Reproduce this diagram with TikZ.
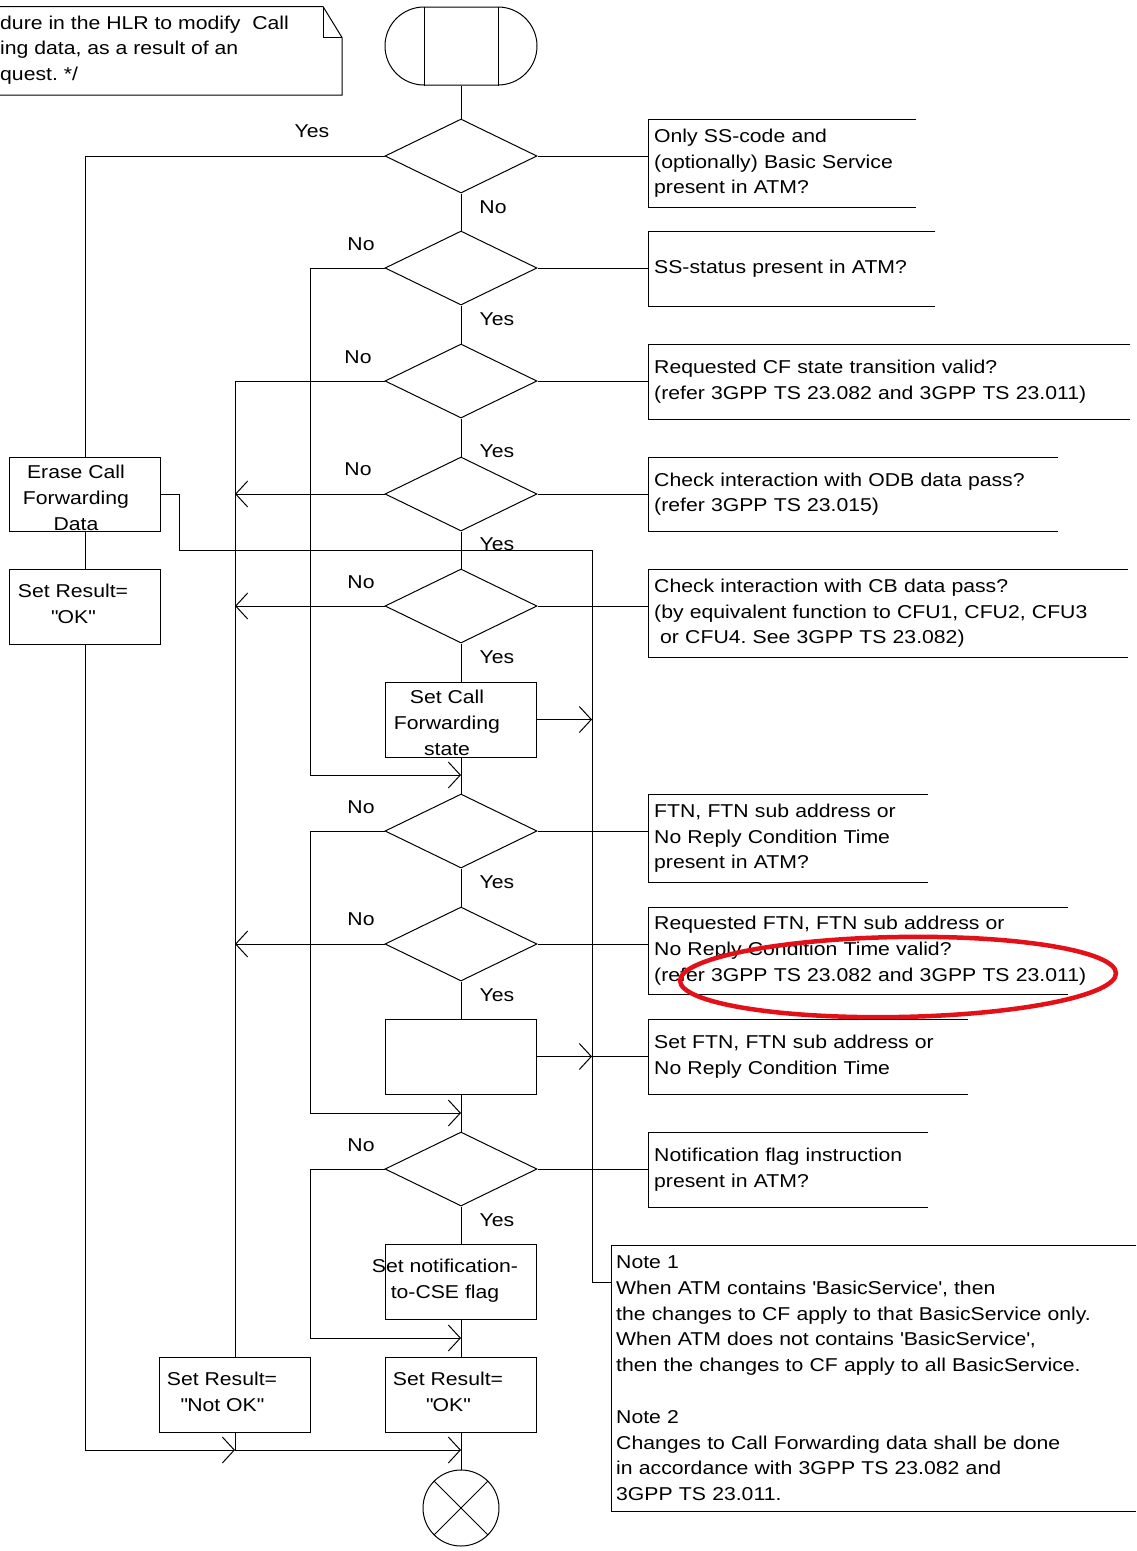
\documentclass[tikz,border=0pt]{standalone}
\usepackage{fontspec}
\setmainfont{Liberation Sans}[FakeStretch=1.14]
\usetikzlibrary{shapes.geometric,shapes.misc,arrows.meta,calc}
\definecolor{markred}{RGB}{228,16,24}
\frenchspacing

\begin{document}
\begin{tikzpicture}[x=1pt,y=-1pt,
  every node/.style={font=\fontsize{18.6pt}{25.8pt}\selectfont},
  line/.style={draw=black,line width=1pt},
  arr/.style={line,-{Straight Barb[length=12pt,width=26pt,line width=1pt]}},
  decision/.style={diamond,draw,line width=1pt,minimum width=152pt,minimum height=74pt,inner sep=0pt},
  task/.style={rectangle,draw,line width=1pt,minimum width=151pt,minimum height=75pt,inner sep=0pt},
  boxtext/.style={align=center,inner sep=0pt},
  lbl/.style={inner sep=0pt},
  cmt/.style={anchor=north west,align=left,inner xsep=6pt,inner ysep=0pt},
]
\useasboundingbox (0,0) rectangle (1136,1551);

% ---------- header comment with folded corner ----------
\draw[line] (-5,6.5) -- (323,6.5) -- (342,37.5) -- (342,95) -- (-5,95);
\draw[line] (323,6.5) -- (323,37.5) -- (342,37.5);
\node[lbl,anchor=west,align=left] (hdr) at (0,50)
  {dure in the HLR to modify\ \ Call\\ing data, as a result of an\\quest. */};

% ---------- start symbol ----------
\node[rounded rectangle,draw,line width=1pt,minimum width=152pt,minimum height=78pt,inner sep=0pt] (start) at (461,46) {};
\draw[line] ([xshift=-37pt]start.north) -- ([xshift=-37pt]start.south);
\draw[line] ([xshift=37pt]start.north) -- ([xshift=37pt]start.south);

% ---------- decisions ----------
\node[decision] (d1) at (461,156) {};
\node[decision] (d2) at (461,268) {};
\node[decision] (d3) at (461,381) {};
\node[decision] (d4) at (461,494) {};
\node[decision] (d5) at (461,606) {};
\node[decision] (d6) at (461,831) {};
\node[decision] (d7) at (461,944) {};
\node[decision] (d8) at (461,1169) {};

% ---------- tasks ----------
\node[task] (setcf) at (461,719.5) {};
\node[task] (empty) at (461,1056.5) {};
\node[task] (notif) at (461,1281.5) {};
\node[task] (rok)   at (461,1394.5) {};
\node[task] (nok)   at (235,1394.5) {};
\node[task,minimum height=74pt] (erase) at (85,494) {};
\node[task] (lok)   at (85,606.5) {};

\node[boxtext] (erase-t) at (76,498)    {Erase Call\\Forwarding\\Data};
\node[boxtext] (lok-t)   at (73,604)    {Set Result=\\\textquotedbl OK\textquotedbl};
\node[boxtext] (setcf-t) at (447,723)   {Set Call\\Forwarding\\state};
\node[boxtext] (notif-t) at (445,1281)  {Set notification-\\to-CSE flag};
\node[boxtext] (nok-t)   at (222,1392)  {Set Result=\\\textquotedbl Not OK\textquotedbl};
\node[boxtext] (rok-t)   at (448,1392)  {Set Result=\\\textquotedbl OK\textquotedbl};

% ---------- stop symbol ----------
\node[circle,draw,line width=1pt,minimum size=76pt,inner sep=0pt] (stop) at (461,1508) {};
\draw[line] (stop.north west) -- (stop.south east) (stop.north east) -- (stop.south west);

% ---------- comments on the right ----------
\node[cmt,minimum width=268pt,minimum height=88pt,text width=256pt] (c1) at (648,119)
  {Only SS-code and\\(optionally) Basic Service\\present in ATM?};
\node[cmt,minimum width=287pt,minimum height=75pt,text width=275pt] (c2) at (648,231)
  {SS-status present in ATM?};
\node[cmt,minimum width=482pt,minimum height=75pt,text width=470pt] (c3) at (648,344)
  {Requested CF state transition valid?\\(refer 3GPP TS 23.082 and 3GPP TS 23.011)};
\node[cmt,minimum width=410pt,minimum height=74pt,text width=398pt] (c4) at (648,457)
  {Check interaction with ODB data pass?\\(refer 3GPP TS 23.015)};
\node[cmt,minimum width=480pt,minimum height=88pt,text width=468pt] (c5) at (648,569)
  {Check interaction with CB data pass?\\(by equivalent function to CFU1, CFU2, CFU3\\\hspace*{6pt}or CFU4. See 3GPP TS 23.082)};
\node[cmt,minimum width=280pt,minimum height=88pt,text width=268pt] (c6) at (648,794)
  {FTN, FTN sub address or\\No Reply Condition Time\\present in ATM?};
\node[cmt,minimum width=420pt,minimum height=87pt,text width=408pt] (c7) at (648,907)
  {Requested FTN, FTN sub address or\\No Reply Condition Time valid?\\\rlap{(refer 3GPP TS 23.082 and 3GPP TS 23.011)}};
\node[cmt,minimum width=320pt,minimum height=75pt,text width=308pt] (c8) at (648,1019)
  {Set FTN, FTN sub address or\\No Reply Condition Time};
\node[cmt,minimum width=280pt,minimum height=75pt,text width=268pt] (c9) at (648,1132)
  {Notification flag instruction\\present in ATM?};
\node[cmt,inner xsep=5pt,minimum width=525pt,minimum height=266pt,text width=515pt] (note) at (611,1245)
  {Note 1\\When ATM contains \textquotesingle BasicService\textquotesingle, then\\the changes to CF apply to that BasicService only.\\When ATM does not contains \textquotesingle BasicService\textquotesingle,\\then the changes to CF apply to all BasicService.\\[25.8pt]Note 2\\Changes to Call Forwarding data shall be done\\in accordance with 3GPP TS 23.082 and\\3GPP TS 23.011.};

\foreach \c in {c1,c2,c3,c4,c5,c6,c7,c8,c9,note}
  \draw[line] (\c.north east) -- (\c.north west) -- (\c.south west) -- (\c.south east);

\draw[line] (d1.east) -- (d1.east -| c1.west);
\draw[line] (d2.east) -- (d2.east -| c2.west);
\draw[line] (d3.east) -- (d3.east -| c3.west);
\draw[line] (d4.east) -- (d4.east -| c4.west);
\draw[line] (d5.east) -- (d5.east -| c5.west);
\draw[line] (d6.east) -- (d6.east -| c6.west);
\draw[line] (d7.east) -- (d7.east -| c7.west);
\draw[line] (empty.east) -- (empty.east -| c8.west);
\draw[line] (d8.east) -- (d8.east -| c9.west);

% ---------- main column ----------
\coordinate (m1) at (461,775);
\coordinate (m2) at (461,1113);
\coordinate (m3) at (461,1338);
\coordinate (jA) at (235,1450);
\coordinate (jB) at (461,1450);
\coordinate (busTop) at (592,550);
\coordinate (busBot) at (592,1282);

\draw[line] (start.south) -- (d1.north);
\draw[line] (d1.south) -- (d2.north);
\draw[line] (d2.south) -- (d3.north);
\draw[line] (d3.south) -- (d4.north);
\draw[line] (d4.south) -- (d5.north);
\draw[line] (d5.south) -- (setcf.north);
\draw[line] (setcf.south) -- (d6.north);
\draw[line] (d6.south) -- (d7.north);
\draw[line] (d7.south) -- (empty.north);
\draw[line] (empty.south) -- (d8.north);
\draw[line] (d8.south) -- (notif.north);
\draw[line] (notif.south) -- (rok.north);
\draw[line] (rok.south) -- (stop.north);

% ---------- branches ----------
\draw[line] (d1.west) -| (erase.north);
\draw[line] (erase.south) -- (lok.north);
\draw[arr] (lok.south) |- (jA);
\draw[line] (nok.south) -- (jA);
\draw[arr] (jA) -- (jB);

\draw[arr] (d2.west) -- ++(-74,0) |- (m1);
\draw[arr] (d6.west) -- ++(-74,0) |- (m2);
\draw[arr] (d8.west) -- ++(-74,0) |- (m3);

\draw[line] (d3.west) -| (nok.north);
\draw[arr] (d4.west) -- (d4.west -| nok.north);
\draw[arr] (d5.west) -- (d5.west -| nok.north);
\draw[arr] (d7.west) -- (d7.west -| nok.north);

\draw[line] (erase.east) -- ++(18,0) |- (busTop) -- (busBot) -- (busBot -| note.west);
\draw[arr] (setcf.east) -- (setcf.east -| busTop);
\draw[arr] (empty.east) -- (empty.east -| busTop);

% ---------- branch labels ----------
\node[lbl] (l1)  at (312,131)  {Yes};
\node[lbl] (l2)  at (493,207)  {No};
\node[lbl] (l3)  at (361,244)  {No};
\node[lbl] (l4)  at (497,319)  {Yes};
\node[lbl] (l5)  at (358,357)  {No};
\node[lbl] (l6)  at (497,451)  {Yes};
\node[lbl] (l7)  at (358,469)  {No};
\node[lbl] (l8)  at (497,544)  {Yes};
\node[lbl] (l9)  at (361,582)  {No};
\node[lbl] (l10) at (497,657)  {Yes};
\node[lbl] (l11) at (361,807)  {No};
\node[lbl] (l12) at (497,882)  {Yes};
\node[lbl] (l13) at (361,919)  {No};
\node[lbl] (l14) at (497,995)  {Yes};
\node[lbl] (l15) at (361,1145) {No};
\node[lbl] (l16) at (497,1220) {Yes};

% ---------- hand-drawn highlight ----------
\draw[markred,line width=4.5pt,rotate around={1:(898,977)}] (898,977) ellipse [x radius=218, y radius=40];
\end{tikzpicture}
\end{document}
